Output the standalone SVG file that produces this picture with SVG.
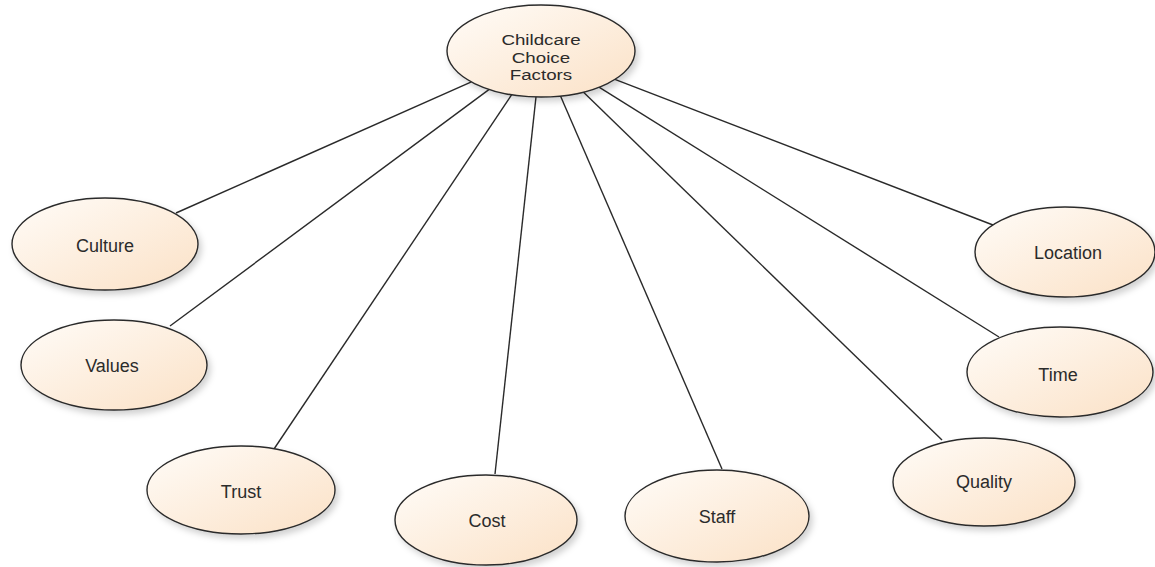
<svg xmlns="http://www.w3.org/2000/svg" width="1155" height="567" viewBox="0 0 1155 567">
  <defs>
    <linearGradient id="nodeFill" x1="0" y1="0" x2="1" y2="1">
      <stop offset="0" stop-color="#fffcf8"/>
      <stop offset="1" stop-color="#fbe1c6"/>
    </linearGradient>
    <filter id="softShadow" x="-20%" y="-20%" width="140%" height="150%">
      <feDropShadow dx="3" dy="4" stdDeviation="3" flood-color="#000" flood-opacity="0.18"/>
    </filter>
  </defs>
  <style>
    .node ellipse { fill: url(#nodeFill); stroke: #2a2a2a; stroke-width: 1.4; filter: url(#softShadow); }
    .node text { font-family: "Liberation Sans", Arial, sans-serif; font-size: 18px; fill: #2b2b2b; text-anchor: middle; }
    #hub text { font-size: 15px; }
    .edges line { stroke: #2a2a2a; stroke-width: 1.4; }
  </style>
  <rect width="1155" height="567" fill="#ffffff"/>

  <!-- links from the central factor to each factor -->
  <g class="edges">
    <line x1="471.4" y1="81.9" x2="176" y2="213"/>
    <line x1="489.2" y1="89.4" x2="170" y2="326"/>
    <line x1="511.7" y1="94.7" x2="274" y2="449"/>
    <line x1="536.0" y1="96.9" x2="495" y2="474"/>
    <line x1="560.5" y1="96.0" x2="722" y2="469"/>
    <line x1="583.3" y1="92.1" x2="942" y2="440"/>
    <line x1="599.0" y1="87.2" x2="999" y2="337"/>
    <line x1="614.9" y1="79.4" x2="993" y2="225"/>
  </g>

  <g id="hub" class="node">
    <ellipse cx="541" cy="51" rx="94" ry="46"/>
    <!-- label widened horizontally about the node centre -->
    <g transform="matrix(1.25 0 0 1 -135.25 0)">
      <text x="541" y="45.5">Childcare</text>
      <text x="541" y="63">Choice</text>
      <text x="541" y="80.5">Factors</text>
    </g>
  </g>
  <g id="culture" class="node">
    <ellipse cx="105" cy="244" rx="93" ry="46"/>
    <text x="105" y="252">Culture</text>
  </g>
  <g id="values" class="node">
    <ellipse cx="114" cy="365" rx="93" ry="45"/>
    <text x="112" y="372">Values</text>
  </g>
  <g id="trust" class="node">
    <ellipse cx="241" cy="490" rx="94" ry="44"/>
    <text x="241" y="498">Trust</text>
  </g>
  <g id="cost" class="node">
    <ellipse cx="486" cy="520" rx="91" ry="45"/>
    <text x="487" y="527">Cost</text>
  </g>
  <g id="staff" class="node">
    <ellipse cx="717" cy="516" rx="92" ry="46"/>
    <text x="717" y="523">Staff</text>
  </g>
  <g id="quality" class="node">
    <ellipse cx="984" cy="482" rx="91" ry="44"/>
    <text x="984" y="488">Quality</text>
  </g>
  <g id="time" class="node">
    <ellipse cx="1060" cy="372" rx="93" ry="45"/>
    <text x="1058" y="381">Time</text>
  </g>
  <g id="location" class="node">
    <ellipse cx="1065" cy="252" rx="90" ry="45"/>
    <text x="1068" y="259">Location</text>
  </g>
</svg>
